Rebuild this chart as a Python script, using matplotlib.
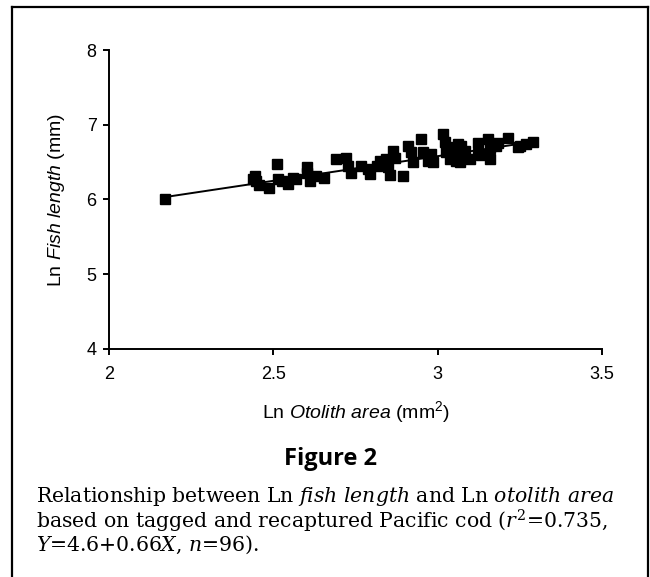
import matplotlib
matplotlib.use('Agg')
import matplotlib.pyplot as plt
from matplotlib.lines import Line2D
import numpy as np

# Data: Ln otolith area vs Ln fish length
ln_area = [2.17, 2.438, 2.447, 2.456, 2.444, 2.486, 2.510, 2.514, 2.526, 2.544,
           2.559, 2.568, 2.601, 2.603, 2.611, 2.631, 2.653, 2.690, 2.722, 2.728,
           2.737, 2.768, 2.788, 2.793, 2.814, 2.824, 2.844, 2.849, 2.854, 2.864,
           2.869, 2.894, 2.910, 2.918, 2.925, 2.950, 2.955, 2.971, 2.981, 2.986,
           3.016, 3.021, 3.026, 3.036, 3.042, 3.052, 3.057, 3.062, 3.067, 3.072,
           3.082, 3.097, 3.122, 3.122, 3.133, 3.153, 3.158, 3.158, 3.178, 3.183,
           3.214, 3.244, 3.249, 3.270, 3.290]
ln_length = [6.01, 6.28, 6.25, 6.19, 6.31, 6.16, 6.48, 6.28, 6.25, 6.21,
             6.29, 6.28, 6.43, 6.35, 6.25, 6.32, 6.29, 6.54, 6.56, 6.45,
             6.36, 6.45, 6.41, 6.34, 6.45, 6.52, 6.54, 6.43, 6.33, 6.65,
             6.56, 6.31, 6.71, 6.63, 6.50, 6.81, 6.63, 6.52, 6.61, 6.50,
             6.87, 6.77, 6.64, 6.54, 6.70, 6.63, 6.52, 6.74, 6.50, 6.72,
             6.65, 6.54, 6.76, 6.61, 6.59, 6.81, 6.69, 6.54, 6.72, 6.76,
             6.82, 6.70, 6.72, 6.74, 6.77]

# Regression from caption: Y = 4.6 + 0.66X
intercept = 4.6
slope = 0.66
fit_x = [2.17, 3.29]

x_ticks = [2, 2.5, 3, 3.5]
x_tick_labels = ['2', '2.5', '3', '3.5']
y_ticks = [4, 5, 6, 7, 8]

plt.rcParams['font.family'] = 'Liberation Sans'
plt.rcParams['mathtext.fontset'] = 'custom'
plt.rcParams['mathtext.rm'] = 'Liberation Sans'
plt.rcParams['mathtext.it'] = 'Liberation Sans:italic'

fig = plt.figure(figsize=(6.5, 5.77), dpi=100)
ax = fig.add_axes([0.1677, 0.3952, 0.7585, 0.5181])

ax.plot(ln_area, ln_length, 's', color='black', ms=6.5, mec='black')
fx = np.array(fit_x)
ax.plot(fx, intercept + slope * fx, color='black', lw=1.4)

ax.set_xlim(2, 3.5)
ax.set_ylim(4, 8)
ax.set_xticks(x_ticks)
ax.set_xticklabels(x_tick_labels)
ax.set_yticks(y_ticks)
ax.spines['top'].set_visible(False)
ax.spines['right'].set_visible(False)
ax.spines['left'].set_linewidth(1.4)
ax.spines['bottom'].set_linewidth(1.4)
ax.tick_params(direction='out', length=4, width=1.4, labelsize=13)
ax.tick_params(axis='x', pad=8)
ax.tick_params(axis='y', pad=5)

ax.set_xlabel(r'Ln $\mathit{Otolith\ area}$ (mm$^{2}$)', fontsize=14, labelpad=12,
              math_fontfamily='custom')
ax.set_ylabel(r'Ln $\mathit{Fish\ length}$ (mm)', fontsize=14, labelpad=14,
              math_fontfamily='custom')

# Outer frame (open at bottom)
lw = 1.6
fig.add_artist(Line2D([0.0185, 0.0185], [0, 0.988], color='black', lw=lw))
fig.add_artist(Line2D([0.0185, 0.997], [0.988, 0.988], color='black', lw=lw))
fig.add_artist(Line2D([0.997, 0.997], [0, 0.988], color='black', lw=lw))

fig.text(0.508, 0.205, 'Figure 2', family='Open Sans', weight='bold',
         fontsize=17, ha='center', va='center')

cap_kw = dict(family='DejaVu Serif', fontsize=14.7, ha='left', va='center',
              math_fontfamily='dejavuserif')
fig.text(0.055, 0.139, r'Relationship between Ln $\mathit{fish\ length}$ and Ln $\mathit{otolith\ area}$', **cap_kw)
fig.text(0.055, 0.097, r'based on tagged and recaptured Pacific cod ($r^2$=0.735,', **cap_kw)
fig.text(0.055, 0.055, r'$Y$=4.6+0.66$X$, $n$=96).', **cap_kw)

fig.savefig('out.png', dpi=100)
